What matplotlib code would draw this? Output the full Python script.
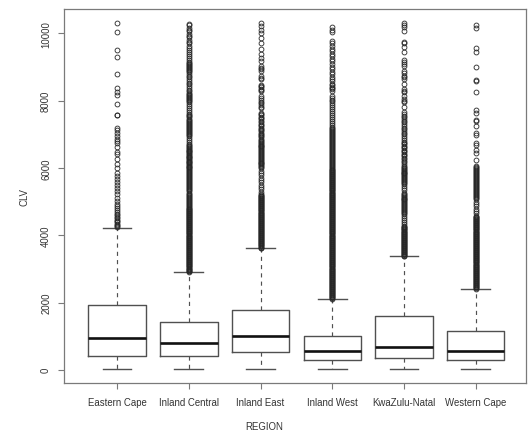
import matplotlib
matplotlib.use("Agg")
import matplotlib.pyplot as plt

plt.rcParams["font.family"] = ["Liberation Sans", "DejaVu Sans"]

regions = ["Eastern Cape", "Inland Central", "Inland East", "Inland West",
           "KwaZulu-Natal", "Western Cape"]

# five-number summaries per region
q1 = [410, 401, 538, 291, 360, 291]
medians = [939, 788, 1005, 550, 687, 568]
q3 = [1941, 1430, 1787, 1014, 1590, 1144]
whisker_lo = [15, 15, 15, 15, 15, 15]
whisker_hi = [4209, 2907, 3612, 2105, 3374, 2393]

# values beyond the upper whisker
out_eastern_cape = [
    10315, 10040, 9520, 9305, 8785, 8365, 8270, 8165, 7900, 7585, 7560, 7200,
    7115, 7030, 6950, 6870, 6800, 6730, 6635, 6485, 6405, 6275, 6110, 6010,
    5860, 5760, 5660, 5580, 5485, 5415, 5315, 5220, 5120, 5020, 4920, 4860,
    4800, 4745, 4690, 4640, 4590, 4545, 4500, 4460, 4420, 4380, 4340, 4300,
    4265, 4235]

out_inland_central = [
    10290, 10240, 10170, 10110, 10060, 9990, 9930, 9880, 9810, 9750, 9700,
    9640, 9570, 9510, 9460, 9390, 9330, 9270, 9210,
    9160, 9130, 9100, 9070, 9040, 9010, 8980, 8950, 8920, 8890,
    8840, 8790, 8730, 8690, 8640, 8580, 8530, 8490, 8430, 8380, 8330, 8280, 8230,
    8200, 8170, 8140, 8110, 8080, 8050, 8020, 7990, 7960,
    7900, 7840, 7790, 7720, 7660, 7610, 7560,
    7530, 7500, 7470, 7440, 7410, 7380, 7350, 7320, 7290, 7260, 7230, 7200,
    7170, 7140, 7110, 7080, 7050, 7020, 6990, 6960,
    6900, 6840, 6780, 6720, 6670,
    6640, 6615, 6590, 6566, 6540, 6515, 6490, 6466, 6440, 6415, 6390, 6366,
    6340, 6315, 6290, 6266, 6240, 6215, 6190, 6166, 6140, 6115, 6090, 6066,
    6040, 6015,
    5990, 5960, 5931, 5900, 5870, 5841, 5810, 5780, 5751, 5720, 5690, 5661,
    5630, 5600, 5571, 5540, 5510, 5481, 5450, 5420, 5391, 5360, 5330, 5301,
    5270, 5240, 5211, 5180, 5150, 5121, 5090, 5060, 5031, 5000, 4970, 4941,
    4910, 4880, 4851, 4820, 4790,
    4772, 4751, 4730, 4712, 4691, 4670, 4652, 4631, 4610, 4592, 4571, 4550,
    4532, 4511, 4490, 4472, 4451, 4430, 4412, 4391, 4370, 4352, 4331, 4310,
    4292, 4271, 4250, 4232, 4211, 4190, 4172, 4151, 4130, 4112, 4091, 4070,
    4052, 4031, 4010, 3992, 3971, 3950, 3932, 3911, 3890, 3872, 3851, 3830,
    3812, 3791, 3770, 3752, 3731, 3710, 3692, 3671, 3650, 3632, 3611, 3590,
    3572, 3551, 3530, 3512, 3491, 3470, 3452, 3431, 3410, 3392, 3371, 3350,
    3332, 3311, 3290, 3272, 3251, 3230, 3212, 3191, 3170, 3152, 3131, 3110,
    3092, 3071, 3050, 3032, 3011, 2990, 2972, 2951, 2935, 2918]

out_inland_east = [
    10310, 10215, 10095, 10000, 9870, 9720, 9525, 9375, 9275, 9180,
    9030, 8980, 8930, 8880, 8730, 8680, 8630,
    8480, 8440, 8400, 8360, 8320, 8290,
    8130, 8080, 8020, 7970, 7920, 7870, 7820, 7770,
    7640, 7600, 7561, 7520, 7480, 7441, 7400, 7360, 7321, 7280, 7240, 7201, 7160,
    7120, 7085, 7050, 7015, 6980, 6945, 6910, 6875,
    6835, 6806, 6780, 6751, 6722, 6695, 6666, 6640, 6611, 6582, 6555, 6526,
    6500, 6471, 6442, 6415, 6386, 6360, 6331, 6302, 6275, 6246, 6220, 6191,
    6162, 6135, 6106, 6080, 6051, 6022, 5995,
    5920, 5850, 5780, 5710, 5640, 5570, 5500, 5430, 5360, 5290, 5230,
    5195, 5176, 5155, 5136, 5115, 5096, 5075, 5056, 5035, 5016, 4995, 4976,
    4955, 4936, 4915, 4896, 4875, 4856, 4835, 4816, 4795, 4776, 4755, 4736,
    4715, 4696, 4675, 4656, 4635, 4616, 4595, 4576, 4555, 4536, 4515, 4496,
    4475, 4456, 4435, 4416, 4395, 4376, 4355, 4336, 4315, 4296, 4275, 4256,
    4235, 4216, 4195, 4176, 4155, 4136, 4115, 4096, 4075, 4056, 4035, 4016,
    3995, 3976, 3955, 3936, 3915, 3896, 3875, 3856, 3835, 3816, 3795, 3776,
    3755, 3736, 3715, 3696, 3675, 3656, 3635, 3618]

out_inland_west = [
    10180, 10110, 10030,
    9780, 9710, 9630, 9550, 9480, 9400, 9320, 9240, 9170, 9090, 9010, 8940,
    8860, 8790, 8710, 8640, 8570, 8500,
    8460, 8420, 8380, 8340, 8300,
    8140, 8090, 8030, 7980, 7930, 7870, 7810, 7760,
    7700, 7640, 7580, 7520, 7460, 7400, 7340, 7280,
    7232, 7201, 7170, 7142, 7111, 7080, 7052, 7021, 6990, 6962, 6931, 6900,
    6872, 6841, 6810, 6782, 6751, 6720, 6692, 6661, 6630, 6602, 6571, 6540,
    6512, 6481, 6450, 6422, 6391, 6360, 6332, 6301, 6270, 6242, 6211, 6180,
    6152, 6121, 6090, 6062, 6031, 6000, 5972,
    5951, 5930, 5912, 5891, 5870, 5852, 5831, 5810, 5792, 5771, 5750, 5732,
    5711, 5690, 5672, 5651, 5630, 5612, 5591, 5570, 5552, 5531, 5510, 5492,
    5471, 5450, 5432, 5411, 5390, 5372, 5351, 5330, 5312, 5291, 5270, 5252,
    5231, 5210, 5192, 5171, 5150, 5132, 5111, 5090, 5072, 5051, 5030, 5012,
    4991, 4970, 4952, 4931, 4910, 4892, 4871, 4850, 4832, 4811, 4790, 4772,
    4751, 4730, 4712, 4691, 4670, 4652, 4631, 4610, 4592, 4571, 4550, 4532,
    4511, 4490, 4472, 4451, 4430, 4412, 4391, 4370, 4352, 4331, 4310, 4292,
    4271, 4250, 4232, 4211, 4190, 4172, 4151, 4130, 4112, 4091, 4070, 4052,
    4031, 4010, 3992, 3971, 3950, 3932, 3911, 3890, 3872, 3851, 3830, 3812,
    3791, 3770, 3752, 3731, 3710, 3692, 3671, 3650, 3632, 3611, 3590, 3572,
    3551, 3530, 3512, 3491, 3470, 3452, 3431, 3410, 3392, 3371, 3350, 3332,
    3311, 3290, 3272, 3251, 3230, 3212, 3191, 3170, 3152, 3131, 3110, 3092,
    3071, 3050, 3032, 3011, 2990, 2972, 2951, 2930, 2912, 2891, 2870, 2852,
    2831, 2810, 2792, 2771, 2750, 2732, 2711, 2690, 2672, 2651, 2630, 2612,
    2591, 2570, 2552, 2531, 2510, 2492, 2471, 2450, 2432, 2411, 2390, 2372,
    2351, 2330, 2312, 2291, 2270, 2252, 2231, 2210, 2192, 2171, 2150, 2132,
    2118]

out_kwazulu_natal = [
    10300, 10245, 10185, 10060, 9735, 9705, 9600, 9440, 9220, 9150, 9085, 9030,
    8880, 8810, 8745, 8690, 8640, 8490, 8345, 8300, 8250, 8140, 8040, 7990,
    7960, 7800, 7650, 7600, 7550, 7500, 7460,
    7400, 7352, 7300, 7251, 7200, 7148, 7100, 7052, 7000, 6951, 6900,
    6822, 6780, 6741, 6700, 6662, 6620, 6581, 6540, 6502, 6460, 6421, 6380,
    6342, 6300, 6261,
    6220, 6170, 6121, 6070,
    6031, 6003, 5975, 5948, 5920, 5892, 5864, 5836, 5808, 5780, 5752, 5724,
    5696, 5668, 5640, 5612, 5584, 5556, 5530,
    5470, 5400, 5330, 5260,
    5232, 5204, 5176, 5148, 5120, 5092, 5064, 5036, 5008, 4980, 4952, 4924,
    4896, 4868, 4840, 4812, 4784, 4756, 4728, 4700, 4672,
    4620, 4560, 4500, 4440, 4380, 4320, 4275,
    4252, 4231, 4210, 4192, 4171, 4150, 4132, 4111, 4090, 4072, 4051, 4030,
    4012, 3991, 3970, 3952, 3931, 3910, 3892, 3871, 3850, 3832, 3811, 3790,
    3772, 3751, 3730, 3712, 3691, 3670, 3652, 3631, 3610, 3592, 3571, 3550,
    3532, 3511, 3490, 3472, 3451, 3430, 3412, 3391, 3380]

out_western_cape = [
    10250, 10160, 9560, 9440, 8990, 8615, 8595, 8270, 7720, 7640, 7440, 7405,
    7260, 7040, 6970, 6730, 6680, 6520, 6450, 6240,
    6061, 6031, 6000, 5972, 5941, 5910, 5882, 5851, 5820, 5792, 5761, 5730,
    5702, 5671, 5640, 5612, 5581, 5550, 5522, 5491, 5460, 5432, 5401, 5370,
    5342, 5311, 5280, 5252, 5221, 5190, 5162, 5131, 5100, 5072,
    5000, 4930, 4860, 4790, 4720, 4650, 4585,
    4552, 4531, 4510, 4492, 4471, 4450, 4432, 4411, 4390, 4372, 4351, 4330,
    4312, 4291, 4270, 4252, 4231, 4210, 4192, 4171, 4150, 4132, 4111, 4090,
    4072, 4051, 4030, 4012, 3991, 3970, 3952, 3931, 3910, 3892, 3871, 3850,
    3832, 3811, 3790, 3772, 3751, 3730, 3712, 3691, 3670, 3652, 3631, 3610,
    3592, 3571, 3550, 3532, 3511, 3490, 3472, 3451, 3430, 3412, 3391, 3370,
    3352, 3331, 3310, 3292, 3271, 3250, 3232, 3211, 3190, 3172, 3151, 3130,
    3112, 3091, 3070, 3052, 3031, 3010, 2992, 2971, 2950, 2932, 2911, 2890,
    2872, 2851, 2830, 2812, 2791, 2770, 2752, 2731, 2710, 2692, 2671, 2650,
    2632, 2611, 2590, 2572, 2551, 2530, 2512, 2491, 2470, 2452, 2431, 2412]

outliers = [out_eastern_cape, out_inland_central, out_inland_east,
            out_inland_west, out_kwazulu_natal, out_western_cape]

y_ticks = [0, 2000, 4000, 6000, 8000, 10000]

stats = []
for i, name in enumerate(regions):
    stats.append(dict(label=name, med=medians[i], q1=q1[i], q3=q3[i],
                      whislo=whisker_lo[i], whishi=whisker_hi[i],
                      fliers=outliers[i]))

W, H = 528, 435
fig = plt.figure(figsize=(W / 100, H / 100), dpi=100)
ax = fig.add_axes([64 / W, (H - 384) / H, (526 - 64) / W, (384 - 10) / H])

line_col = "#505050"
ax.bxp(stats, positions=range(1, len(regions) + 1), widths=0.8,
       capwidths=0.4, showfliers=True,
       boxprops=dict(color=line_col, linewidth=1.0),
       whiskerprops=dict(color=line_col, linewidth=0.85, linestyle=(0, (3.5, 3.5))),
       capprops=dict(color=line_col, linewidth=1.0),
       medianprops=dict(color="#111111", linewidth=1.9, solid_capstyle="butt"),
       flierprops=dict(marker="o", markersize=3.5, markerfacecolor="none",
                       markeredgecolor="#262626", markeredgewidth=0.6,
                       linestyle="none"))

ax.set_xlim(0.26, 6.70)
ax.set_ylim(-392, 10725)
ax.set_yticks(y_ticks)
ax.set_yticklabels([str(v) for v in y_ticks], rotation=90, va="center")
ax.set_xticks(range(1, len(regions) + 1))
ax.set_xticklabels(regions)

frame_col = "#7a7a7a"
for s in ax.spines.values():
    s.set_color(frame_col)
    s.set_linewidth(0.9)
ax.tick_params(axis="both", direction="out", length=4.3, width=0.8,
               color=frame_col, labelcolor="#333333", labelsize=6.9)
ax.tick_params(axis="x", pad=6.0)
ax.tick_params(axis="y", pad=5.0)

ax.set_xlabel("REGION", fontsize=6.9, color="#333333")
ax.set_ylabel("CLV", fontsize=6.9, color="#333333")
ax.xaxis.set_label_coords((264 - 64) / (526 - 64), (384 - 427) / (384 - 10))
ax.yaxis.set_label_coords((25 - 64) / (526 - 64), 0.5)
ax.xaxis.label.set_va("center")
ax.yaxis.label.set_va("center")

fig.savefig("out.png", dpi=100, facecolor="white")
